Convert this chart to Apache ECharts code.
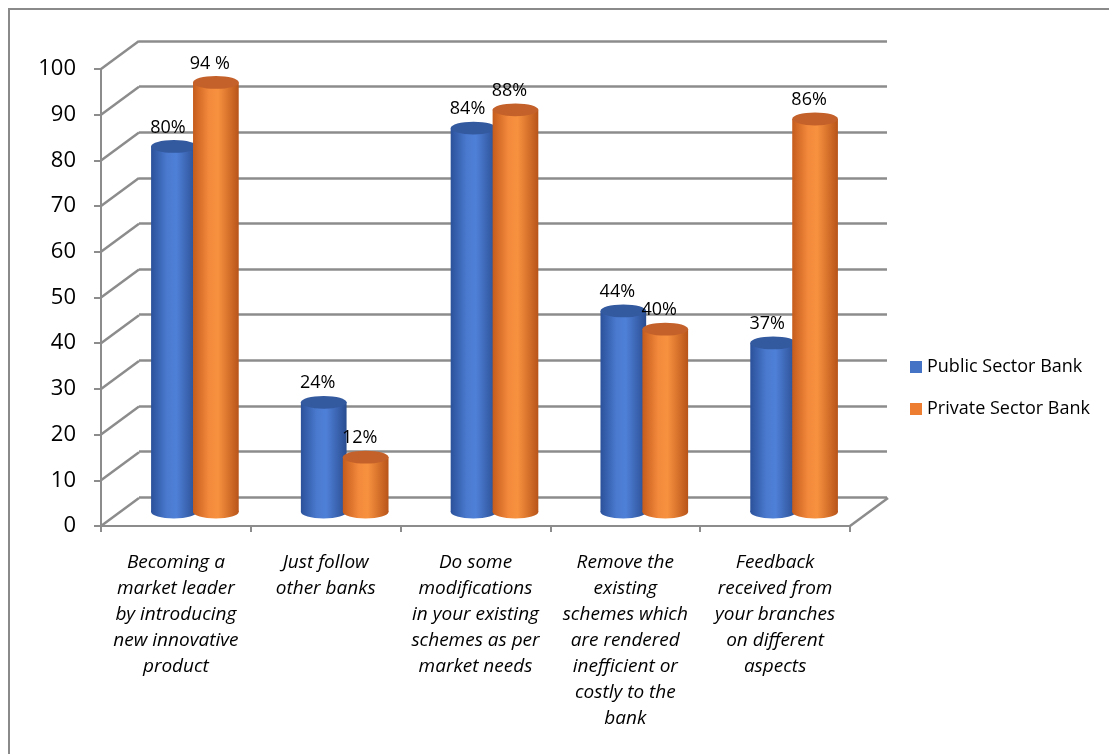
<!DOCTYPE html>
<html>
<head>
<meta charset="utf-8">
<script src="https://cdn.jsdelivr.net/npm/echarts@6/dist/echarts.min.js"></script>
<style>
  html, body { margin: 0; padding: 0; background: #fff; overflow: hidden; }
  #frame { position: absolute; left: 8px; top: 8px; width: 1120px; height: 770px; border: 2px solid #8a8a8a; box-sizing: border-box; }
  #chart { position: absolute; left: 0; top: 0; width: 1109px; height: 754px; }
</style>
</head>
<body>
<div id="frame"></div>
<div id="chart"></div>
<script>
// ---- data ----
const categories = [
  'Becoming a\nmarket leader\nby introducing\nnew innovative\nproduct',
  'Just follow\nother banks',
  'Do some\nmodifications\nin your existing\nschemes as per\nmarket needs',
  'Remove the\nexisting\nschemes which\nare rendered\ninefficient or\ncostly to the\nbank',
  'Feedback\nreceived from\nyour branches\non different\naspects'
];
const seriesNames = ['Public Sector Bank', 'Private Sector Bank'];
const publicValues = [80, 24, 84, 44, 37];
const privateValues = [94, 12, 88, 40, 86];
const publicLabels = ['80%', '24%', '84%', '44%', '37%'];
const privateLabels = ['94 %', '12%', '88%', '40%', '86%'];
const yTicks = [0, 10, 20, 30, 40, 50, 60, 70, 80, 90, 100];

// ---- layout ----
const FRONT = { left: 101, right: 259, top: 69, bottom: 228 };
const BACK  = { left: 139, right: 222, top: 41, bottom: 257 };
const MID   = { left: 120, right: 240, top: 55, bottom: 242 };
const DX = BACK.left - FRONT.left;
const DY = FRONT.top - BACK.top;
const FONT = '"Open Sans", "Noto Sans", sans-serif';

const palettes = [
  { body: ['#2B519A', '#4A7ACF', '#4F80D8', '#2A4D90'], top: '#33599F', legend: '#4472C4' },
  { body: ['#C65C1C', '#F38A3C', '#F7913F', '#B85419'], top: '#C4612A', legend: '#ED7D31' }
];

function cylinder(si, labels) {
  return function (params, api) {
    const cat = api.value(0), val = api.value(1);
    const top = api.coord([cat, val]);
    const base = api.coord([cat, 0]);
    const band = api.size([1, 0])[0];
    const w = band * 0.305;
    const off = band * 0.14;
    const cx = top[0] + (si === 0 ? -off : off);
    const rx = w / 2, ry = w * 0.14;
    const p = palettes[si];
    const grad = new echarts.graphic.LinearGradient(0, 0, 1, 0, [
      { offset: 0, color: p.body[0] },
      { offset: 0.35, color: p.body[1] },
      { offset: 0.55, color: p.body[2] },
      { offset: 1, color: p.body[3] }
    ]);
    return {
      type: 'group',
      children: [
        { type: 'ellipse', shape: { cx: cx, cy: base[1], rx: rx, ry: ry }, style: { fill: grad } },
        { type: 'rect', shape: { x: cx - rx, y: top[1], width: w, height: base[1] - top[1] }, style: { fill: grad } },
        { type: 'ellipse', shape: { cx: cx, cy: top[1], rx: rx, ry: ry }, style: { fill: p.top } },
        { type: 'text', style: { x: cx - 6, y: top[1] - 19, text: labels[params.dataIndex], fill: '#000', font: '18px ' + FONT, align: 'center', verticalAlign: 'middle' } }
      ]
    };
  };
}

const chart = echarts.init(document.getElementById('chart'), null, { renderer: 'canvas' });
const GRAY = '#8c8c8c';

chart.setOption({
  animation: false,
  backgroundColor: 'transparent',
  textStyle: { fontFamily: FONT },
  legend: {
    orient: 'vertical', left: 905, top: 351,
    itemWidth: 12, itemHeight: 12, itemGap: 20,
    icon: 'rect',
    textStyle: { fontSize: 18, color: '#000', fontFamily: FONT, lineHeight: 22 },
    data: [
      { name: seriesNames[0], itemStyle: { color: palettes[0].legend } },
      { name: seriesNames[1], itemStyle: { color: palettes[1].legend } }
    ]
  },
  grid: [
    Object.assign({ containLabel: false }, FRONT),
    Object.assign({ containLabel: false }, BACK),
    Object.assign({ containLabel: false }, MID)
  ],
  xAxis: [
    {
      type: 'category', gridIndex: 0, data: categories,
      axisLine: { lineStyle: { color: GRAY, width: 2 } },
      axisTick: { show: true, length: 6, lineStyle: { color: GRAY, width: 2 } },
      axisLabel: { fontSize: 19, fontStyle: 'italic', color: '#000', lineHeight: 26, margin: 24, interval: 0, fontFamily: FONT },
      splitLine: { show: false }
    },
    { type: 'category', gridIndex: 1, data: categories, show: false },
    { type: 'category', gridIndex: 2, data: categories, show: false }
  ],
  yAxis: [
    {
      type: 'value', gridIndex: 0, min: 0, max: 100, interval: 10,
      axisLine: { show: true, lineStyle: { color: GRAY, width: 2 } },
      axisTick: { show: true, length: 7, lineStyle: { color: GRAY, width: 2 } },
      axisLabel: { fontSize: 22, color: '#000', margin: 25, fontFamily: FONT },
      splitLine: { show: false }
    },
    {
      type: 'value', gridIndex: 1, min: 0, max: 100, interval: 10,
      axisLine: { show: false }, axisTick: { show: false }, axisLabel: { show: false },
      splitLine: { show: true, lineStyle: { color: GRAY, width: 2.5 } }
    },
    {
      type: 'value', gridIndex: 2, min: 0, max: 100, interval: 10, show: false,
      splitLine: { show: false }
    }
  ],
  series: [
    {
      type: 'custom', xAxisIndex: 0, yAxisIndex: 0, silent: true,
      data: yTicks.map(v => [0, v]),
      renderItem: function (params, api) {
        const v = api.value(1);
        const y = api.coord([0, v])[1];
        const cs = params.coordSys;
        const children = [
          { type: 'line', shape: { x1: cs.x, y1: y, x2: cs.x + DX, y2: y - DY }, style: { stroke: GRAY, lineWidth: 2.5 } }
        ];
        if (v === 0) {
          children.push({ type: 'line', shape: { x1: cs.x + cs.width, y1: y, x2: cs.x + cs.width + DX, y2: y - DY }, style: { stroke: GRAY, lineWidth: 2.5 } });
        }
        return { type: 'group', children: children };
      },
      z: 1
    },
    {
      name: seriesNames[0], type: 'custom', xAxisIndex: 2, yAxisIndex: 2,
      data: publicValues.map((v, i) => [i, v]),
      renderItem: cylinder(0, publicLabels),
      itemStyle: { color: palettes[0].legend },
      z: 3
    },
    {
      name: seriesNames[1], type: 'custom', xAxisIndex: 2, yAxisIndex: 2,
      data: privateValues.map((v, i) => [i, v]),
      renderItem: cylinder(1, privateLabels),
      itemStyle: { color: palettes[1].legend },
      z: 3
    }
  ]
});
</script>
</body>
</html>
